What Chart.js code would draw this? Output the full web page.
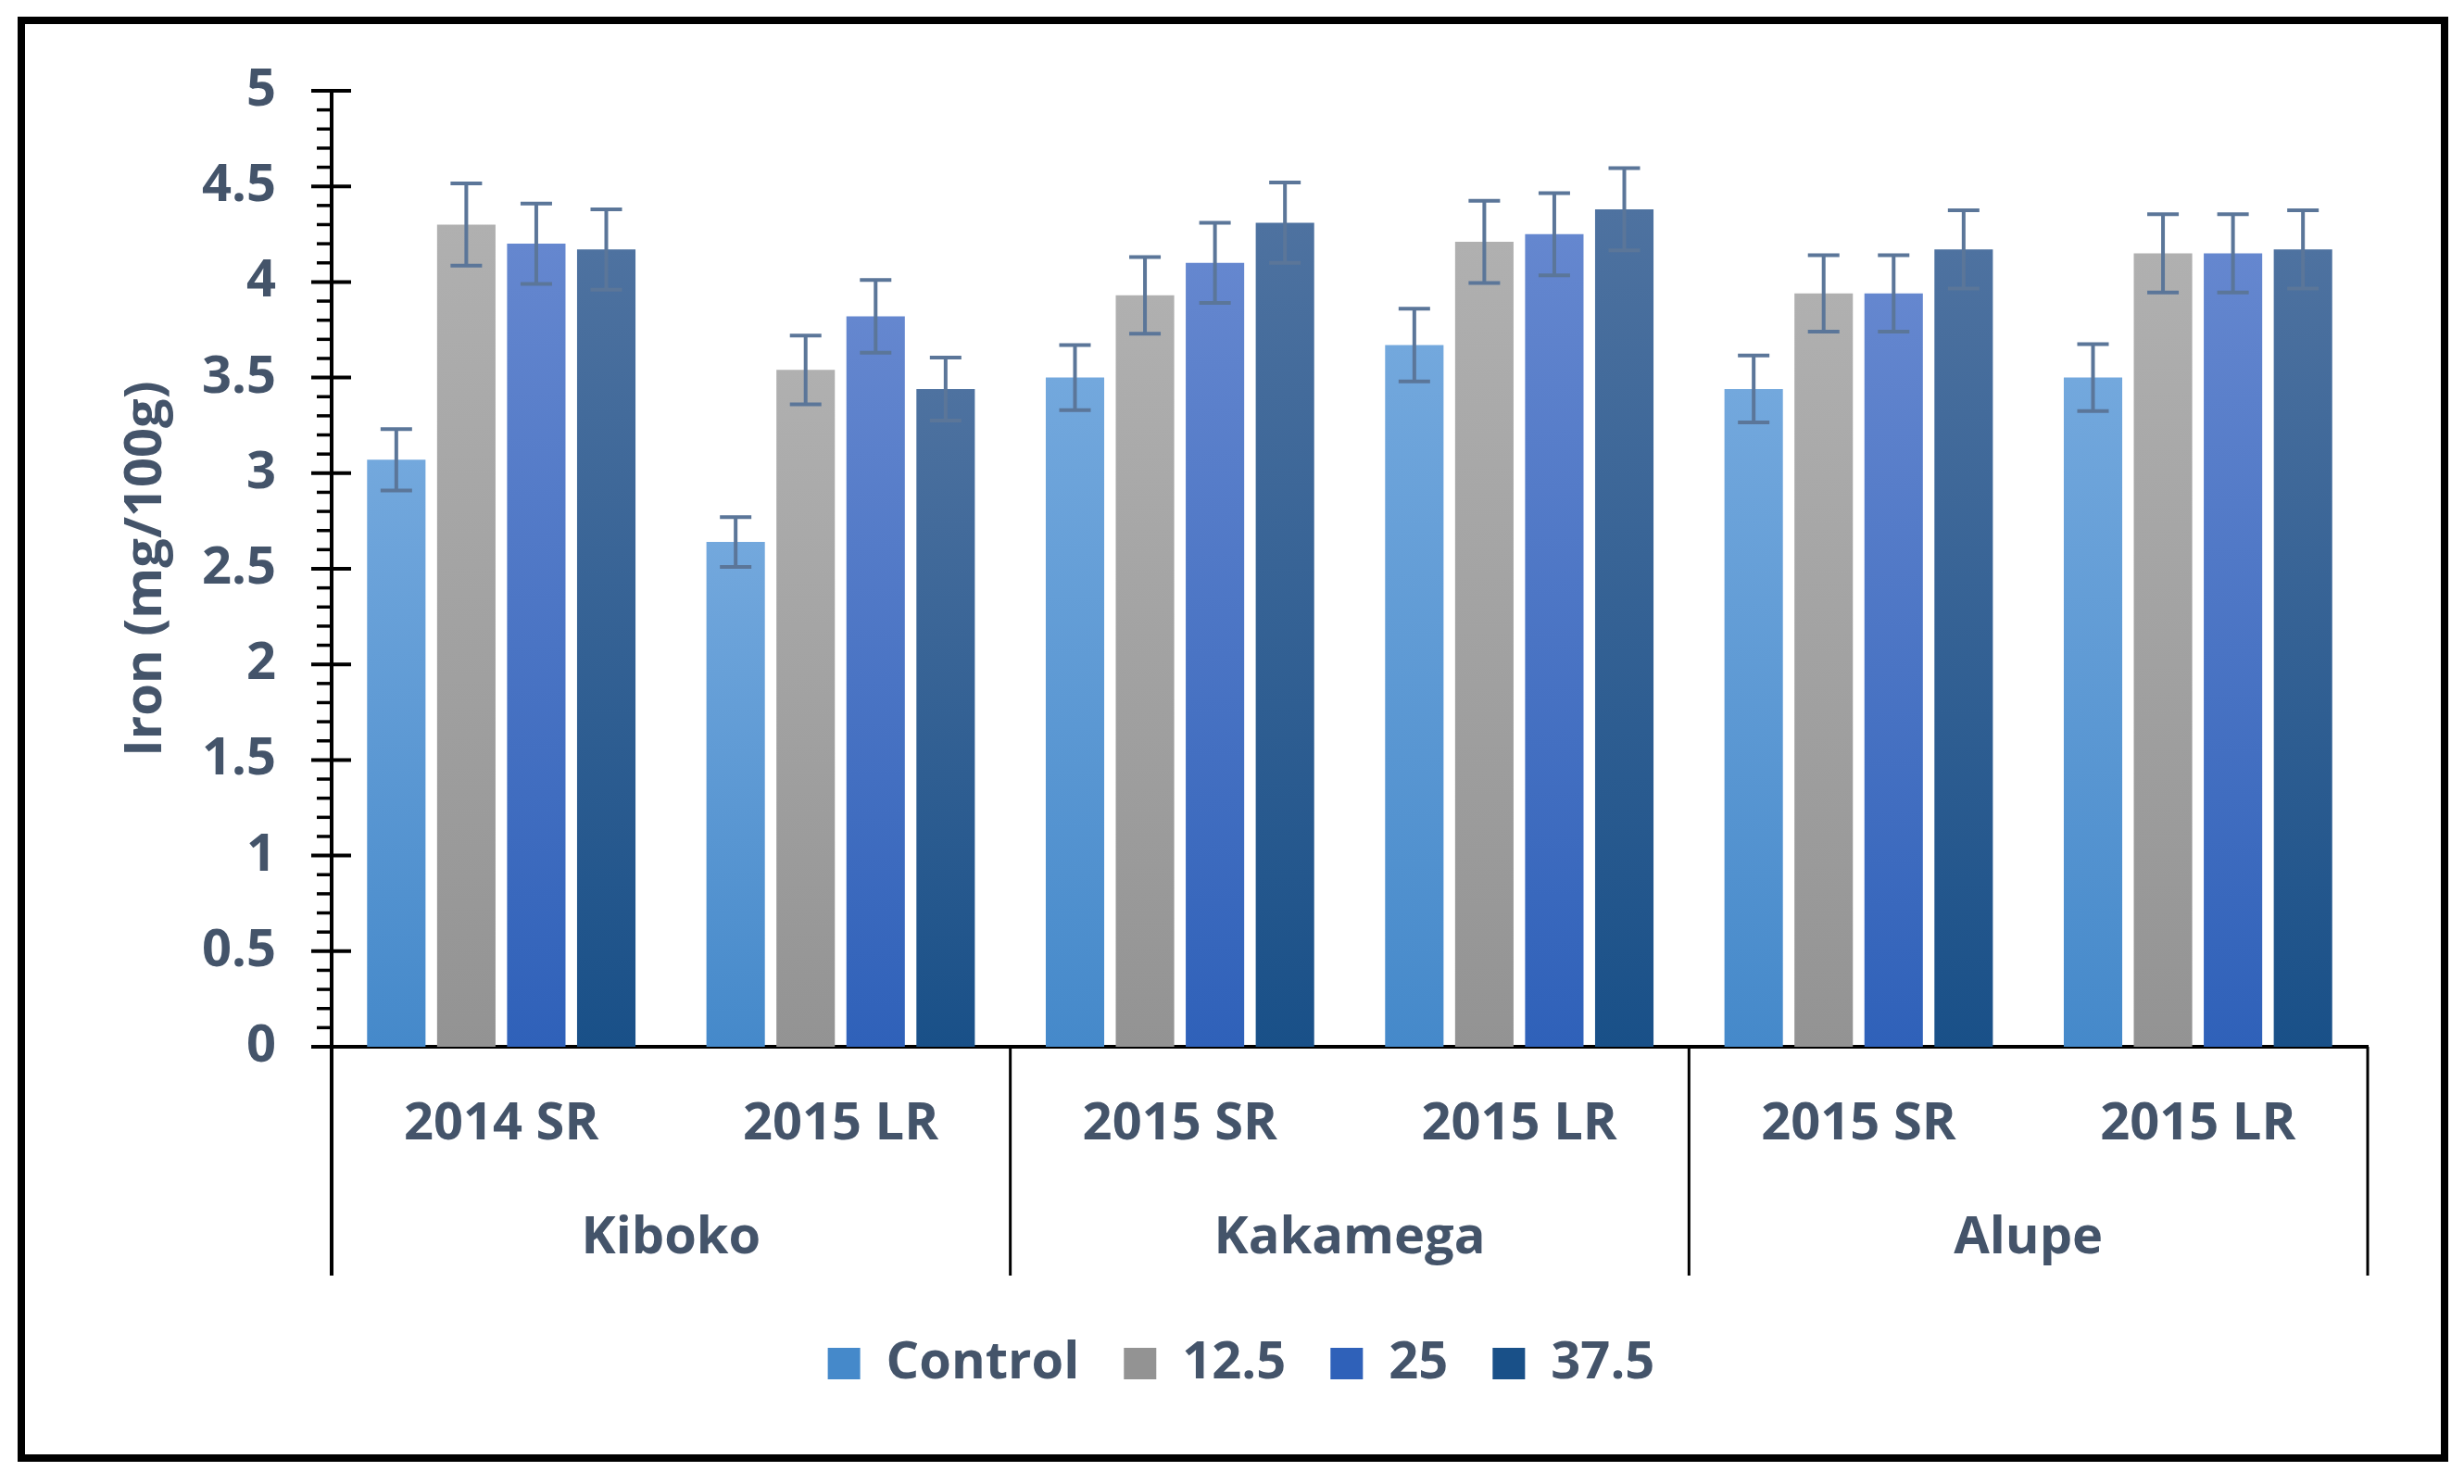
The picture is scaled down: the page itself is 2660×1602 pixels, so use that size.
<!DOCTYPE html>
<html>
<head>
<meta charset="utf-8">
<script src="https://cdn.jsdelivr.net/npm/chart.js@4.4.1/dist/chart.umd.min.js"></script>
<style>
  html, body { margin: 0; padding: 0; background: #ffffff; }
  canvas { display: block; }
</style>
</head>
<body>
<canvas id="iron-chart" width="2660" height="1602" style="width:2660px;height:1602px"></canvas>
<script>
// Iron content by site/season and dose
const seasons = ['2014 SR', '2015 LR', '2015 SR', '2015 LR', '2015 SR', '2015 LR'];
const sites = ['Kiboko', 'Kakamega', 'Alupe'];
const siteSpan = [2, 2, 2];
const seriesNames = ['Control', '12.5', '25', '37.5'];

const control = [3.07, 2.64, 3.50, 3.67, 3.44, 3.50];
const dose125 = [4.30, 3.54, 3.93, 4.21, 3.94, 4.15];
const dose25 = [4.20, 3.82, 4.10, 4.25, 3.94, 4.15];
const dose375 = [4.17, 3.44, 4.31, 4.38, 4.17, 4.17];

const controlErr = [0.16, 0.13, 0.17, 0.19, 0.175, 0.175];
const dose125Err = [0.215, 0.18, 0.20, 0.215, 0.20, 0.205];
const dose25Err = [0.21, 0.19, 0.21, 0.215, 0.20, 0.205];
const dose375Err = [0.21, 0.165, 0.21, 0.215, 0.205, 0.205];

const yTickLabels = ['0', '0.5', '1', '1.5', '2', '2.5', '3', '3.5', '4', '4.5', '5'];

const textColor = '#44546A';
const fontFamily = "'Open Sans', 'DejaVu Sans', sans-serif";

// top / bottom colours of each bar gradient
function barFill(top, bottom, mid) {
    return function(ctx) {
        const chart = ctx.chart;
        if (ctx.type !== 'data' || !chart.chartArea || !chart.scales.y) return mid;
        const y = chart.scales.y;
        const g = chart.ctx.createLinearGradient(0, y.getPixelForValue(ctx.raw), 0, y.getPixelForValue(0));
        g.addColorStop(0, top);
        g.addColorStop(1, bottom);
        return g;
    };
}

// frame round the whole picture
const framePlugin = {
    id: 'frame',
    beforeDraw(chart) {
        const c = chart.ctx;
        c.save();
        c.fillStyle = '#ffffff';
        c.fillRect(0, 0, chart.width, chart.height);
        c.restore();
    },
    afterDraw(chart) {
        const c = chart.ctx;
        c.save();
        c.strokeStyle = '#000000';
        c.lineWidth = 8;
        c.strokeRect(23, 22, 2616, 1552);
        c.restore();
    }
};

// major ticks crossing the axis, minor ticks outside
const yTicksPlugin = {
    id: 'yTicks',
    afterDraw(chart) {
        const y = chart.scales.y;
        const x0 = chart.chartArea.left;
        const c = chart.ctx;
        c.save();
        c.strokeStyle = '#000000';
        for (let i = 0; i <= 50; i++) {
            const py = y.getPixelForValue(i / 10);
            c.beginPath();
            if (i % 5 === 0) {
                c.lineWidth = 4;
                c.moveTo(x0 - 22, py);
                c.lineTo(x0 + 21, py);
            } else {
                c.lineWidth = 3.5;
                c.moveTo(x0 - 16, py);
                c.lineTo(x0, py);
            }
            c.stroke();
        }
        c.restore();
    }
};

// site labels and separators under the season labels
const groupAxisPlugin = {
    id: 'groupAxis',
    afterDraw(chart) {
        const x = chart.scales.x;
        const area = chart.chartArea;
        const c = chart.ctx;
        const edge = i => {
            if (i <= 0) return area.left;
            if (i >= seasons.length) return area.right;
            return (x.getPixelForValue(i - 1) + x.getPixelForValue(i)) / 2;
        };
        c.save();
        c.strokeStyle = '#000000';
        let start = 0;
        const bounds = [0];
        siteSpan.forEach(n => { start += n; bounds.push(start); });
        bounds.forEach((b, k) => {
            c.lineWidth = k === 0 ? 4 : 3;
            c.beginPath();
            c.moveTo(edge(b), area.bottom);
            c.lineTo(edge(b), area.bottom + 247);
            c.stroke();
        });
        c.fillStyle = textColor;
        c.font = 'bold 56px ' + fontFamily;
        c.textAlign = 'center';
        c.textBaseline = 'alphabetic';
        sites.forEach((s, k) => {
            const cx = (edge(bounds[k]) + edge(bounds[k + 1])) / 2;
            c.fillText(s, cx, area.bottom + 223);
        });
        c.restore();
    }
};

// error bars from each bar's position
const errorBarPlugin = {
    id: 'errorBars',
    afterDatasetsDraw(chart) {
        const y = chart.scales.y;
        const c = chart.ctx;
        c.save();
        c.strokeStyle = '#5B7699';
        c.lineWidth = 4;
        chart.data.datasets.forEach((ds, i) => {
            const meta = chart.getDatasetMeta(i);
            meta.data.forEach((bar, j) => {
                const v = ds.data[j];
                const e = ds.errors[j];
                const top = y.getPixelForValue(v + e);
                const bot = y.getPixelForValue(v - e);
                c.beginPath();
                c.moveTo(bar.x, top);
                c.lineTo(bar.x, bot);
                c.moveTo(bar.x - 17, top);
                c.lineTo(bar.x + 17, top);
                c.moveTo(bar.x - 17, bot);
                c.lineTo(bar.x + 17, bot);
                c.stroke();
            });
        });
        c.restore();
    }
};

new Chart(document.getElementById('iron-chart'), {
    type: 'bar',
    data: {
        labels: seasons,
        datasets: [
            { label: seriesNames[0], data: control, errors: controlErr,
              backgroundColor: barFill('#73A8DD', '#4589CA', '#5B98D4') },
            { label: seriesNames[1], data: dose125, errors: dose125Err,
              backgroundColor: barFill('#B0B0B0', '#939393', '#A2A2A2') },
            { label: seriesNames[2], data: dose25, errors: dose25Err,
              backgroundColor: barFill('#6587CF', '#2F61B9', '#4A74C4') },
            { label: seriesNames[3], data: dose375, errors: dose375Err,
              backgroundColor: barFill('#4E72A0', '#195088', '#336194') }
        ]
    },
    options: {
        responsive: false,
        devicePixelRatio: 1,
        animation: false,
        categoryPercentage: 0.825,
        barPercentage: 0.835,
        layout: {
            padding: { left: 124, right: 104, top: 98, bottom: 92 }
        },
        plugins: {
            legend: {
                position: 'bottom',
                labels: {
                    boxWidth: 35,
                    boxHeight: 34,
                    padding: 48,
                    color: textColor,
                    font: { family: fontFamily, size: 56, weight: 'bold' }
                }
            },
            tooltip: { enabled: false }
        },
        scales: {
            x: {
                grid: { display: false, drawTicks: false },
                border: { display: true, color: '#000000', width: 4 },
                ticks: {
                    color: textColor,
                    padding: 50,
                    maxRotation: 0,
                    autoSkip: false,
                    font: { family: fontFamily, size: 56, weight: 'bold' }
                },
                afterFit: s => { s.height = 266; }
            },
            y: {
                min: 0,
                max: 5,
                grid: { display: false, drawTicks: false },
                border: { display: true, color: '#000000', width: 4 },
                ticks: {
                    stepSize: 0.5,
                    padding: 60,
                    color: textColor,
                    font: { family: fontFamily, size: 56, weight: 'bold' },
                    callback: (value, index) => yTickLabels[index]
                },
                title: {
                    display: true,
                    text: 'Iron (mg/100g)',
                    color: textColor,
                    padding: 0,
                    font: { family: fontFamily, size: 56, weight: 'bold' }
                },
                afterFit: s => { s.width = 234; }
            }
        }
    },
    plugins: [framePlugin, yTicksPlugin, groupAxisPlugin, errorBarPlugin]
});
</script>
</body>
</html>
